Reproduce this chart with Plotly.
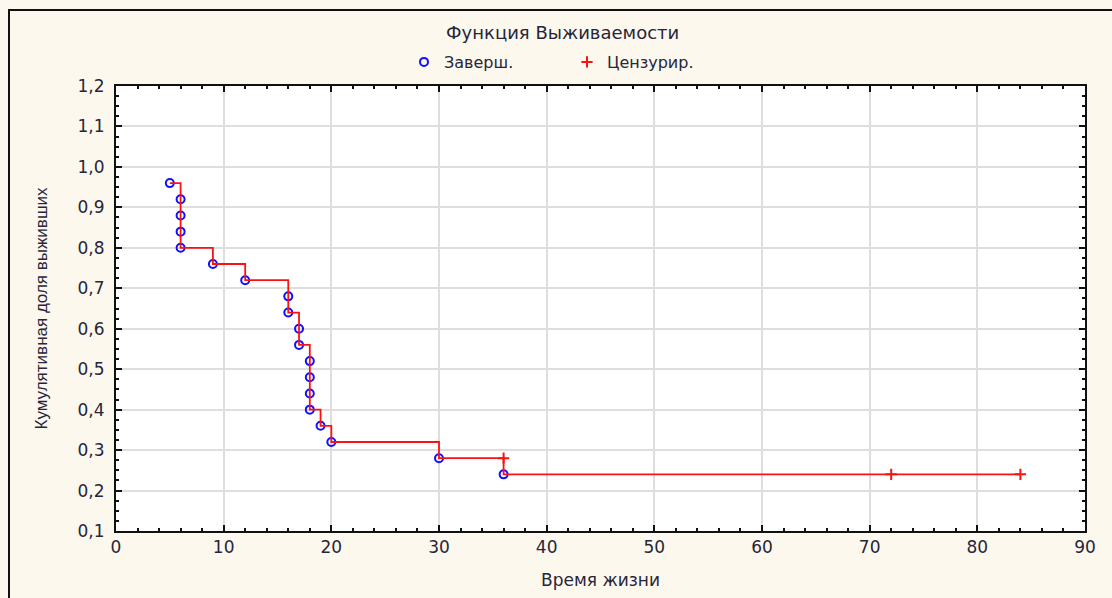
import plotly.graph_objects as go

# Kaplan-Meier estimate: completed (event) observations
time_completed = [5, 6, 6, 6, 6, 9, 12, 16, 16, 17, 17, 18, 18, 18, 18, 19, 20, 30, 36]
surv_completed = [0.96, 0.92, 0.88, 0.84, 0.80, 0.76, 0.72, 0.68, 0.64, 0.60, 0.56,
                  0.52, 0.48, 0.44, 0.40, 0.36, 0.32, 0.28, 0.24]

# censored observations
time_censored = [36, 72, 84]
surv_censored = [0.28, 0.24, 0.24]

x_ticks = [0, 10, 20, 30, 40, 50, 60, 70, 80, 90]
y_ticks = [0.1, 0.2, 0.3, 0.4, 0.5, 0.6, 0.7, 0.8, 0.9, 1.0, 1.1, 1.2]

# step path through all observations in time order (censored before events at ties)
pts = [(t, s, 1) for t, s in zip(time_completed, surv_completed)] + \
      [(t, s, 0) for t, s in zip(time_censored, surv_censored)]
pts.sort(key=lambda p: (p[0], -p[1]))
step_x = [p[0] for p in pts]
step_y = [p[1] for p in pts]

RED = "#ff1010"
BLUE = "#1010ff"
TXT = "#26263a"
FONT = "DejaVu Sans, Verdana, sans-serif"

fig = go.Figure()
fig.add_trace(go.Scatter(
    x=time_completed, y=surv_completed, mode="markers", name="Заверш.",
    marker=dict(symbol="circle-open", size=8, color=BLUE, line=dict(width=2, color=BLUE)),
))
fig.add_trace(go.Scatter(
    x=time_censored, y=surv_censored, mode="markers", name="Цензурир.",
    marker=dict(symbol="cross-thin-open", size=8, color=RED, line=dict(width=2, color=RED)),
))
fig.add_trace(go.Scatter(
    x=step_x, y=step_y, mode="lines", line_shape="hv", showlegend=False,
    line=dict(color=RED, width=1.8), hoverinfo="skip",
))

W, H = 1112, 598
ml, mr, mt, mb = 116, 27, 86, 67
pw, ph = W - ml - mr, H - mt - mb

# outer frame of the chart window
fig.add_shape(type="rect", xref="paper", yref="paper",
              x0=(9 - ml) / pw, x1=1.2, y0=-0.4, y1=(H - mb - 10) / ph,
              line=dict(color="#111111", width=2), fillcolor="rgba(0,0,0,0)", layer="below")

axis_common = dict(
    showline=True, linecolor="#111111", linewidth=2, mirror="ticks",
    ticks="inside", ticklen=6, tickwidth=2, tickcolor="#111111",
    showgrid=True, gridcolor="#dedede", gridwidth=2, zeroline=False,
    tickfont=dict(family=FONT, size=17, color=TXT),
)

fig.update_layout(
    width=W, height=H,
    margin=dict(l=ml, r=mr, t=mt, b=mb, autoexpand=False),
    paper_bgcolor="#fdf8ed", plot_bgcolor="#ffffff",
    separators=", ",
    font=dict(family=FONT, color=TXT),
    title=dict(text="Функция Выживаемости", x=0.506, xref="container", xanchor="center",
               y=1 - 33 / H, yref="container", yanchor="middle",
               font=dict(family=FONT, size=18, color=TXT)),
    legend=dict(orientation="h", x=(424 - 20) / W, xref="container", xanchor="left",
                y=1 - 62 / H, yref="container", yanchor="middle",
                bgcolor="rgba(0,0,0,0)", font=dict(family=FONT, size=16, color=TXT),
                itemwidth=30, entrywidth=118, entrywidthmode="pixels"),
    xaxis=dict(axis_common, range=[0, 90], tickvals=x_ticks,
               minor=dict(dtick=2, ticks="inside", ticklen=3, tickwidth=2,
                          tickcolor="#111111", showgrid=False),
               title=dict(text="Время жизни", standoff=18,
                          font=dict(family=FONT, size=17, color=TXT))),
    yaxis=dict(axis_common, range=[0.1, 1.2], tickvals=y_ticks, tickformat=".1f",
               ticklabelstandoff=6,
               minor=dict(dtick=0.025, ticks="inside", ticklen=3, tickwidth=2,
                          tickcolor="#111111", showgrid=False),
               title=dict(text="Кумулятивная доля выживших", standoff=26,
                          font=dict(family="Liberation Sans Narrow, Liberation Sans, Arial",
                                    size=17, color=TXT))),
)

fig.write_html("out.html")
